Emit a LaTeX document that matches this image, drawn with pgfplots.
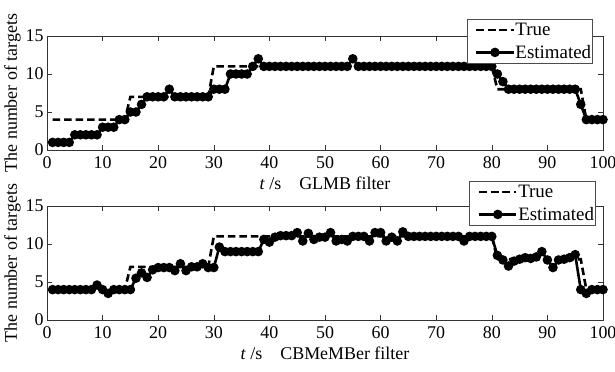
\documentclass[border=0pt]{standalone}
\usepackage{fontspec}
\setmainfont{Liberation Serif}
\usepackage{pgfplots}
\pgfplotsset{compat=1.18}
\pgfplotsset{
  myax/.style={
    width=556bp, height=114bp, scale only axis,
    xmin=0, xmax=100, ymin=0, ymax=15,
    xtick={0,10,...,100}, ytick={0,5,10,15},
    /pgf/number format/assume math mode=true,
    tick label style={font=\fontsize{18}{20}\selectfont},
    label style={font=\fontsize{18}{20}\selectfont},
    major tick length=5bp,
    axis line style={line width=0.6bp, black!80},
    every tick/.style={black!80, line width=0.6bp},
    xticklabel style={yshift=-3bp},
    yticklabel style={xshift=0bp},
    ylabel={The number of targets},
    ylabel style={yshift=-2bp},
    xlabel style={yshift=-1bp},
    legend cell align=left,
    legend style={font=\fontsize{19}{21}\selectfont, draw=black!70, line width=0.6bp,
      fill=white, inner xsep=1bp, inner ysep=2.5bp, row sep=5bp,
      nodes={inner xsep=0.5bp, inner ysep=1.5bp}},
    legend image code/.code={\path (-0.25cm,0cm); \draw[mark repeat=2,mark phase=2,##1] plot coordinates {(0cm,0cm) (0.66cm,0cm) (1.32cm,0cm)};},
  },
  truestyle/.style={black, line width=2.6bp, dash pattern=on 7.5bp off 4bp, no marks},
  eststyle/.style={black, line width=2.6bp, mark=*, mark size=3.4bp, mark options={solid}},
}
\begin{document}
\begin{tikzpicture}
\useasboundingbox (0bp,0bp) rectangle (615bp,-372bp);
% ---------------- top: GLMB
\begin{axis}[myax, at={(47bp,-150bp)}, anchor=south west,
  xlabel={\textit{t} /s\quad GLMB filter},
  legend style={at={(0.982,1.15)}, anchor=north east}]
\addplot[truestyle] coordinates {
(1,4)(2,4)(3,4)(4,4)(5,4)(6,4)(7,4)(8,4)(9,4)(10,4)(11,4)(12,4)(13,4)(14,4)
(15,7)(16,7)(17,7)(18,7)(19,7)(20,7)(21,7)(22,7)(23,7)(24,7)(25,7)(26,7)(27,7)(28,7)(29,7)
(30,11)(40,11)(50,11)(60,11)(70,11)(80,11)
(81,8)(90,8)(96,8)
(97,4)(100,4)};
\addlegendentry{True}
\addplot[eststyle] coordinates {
(1,1)(2,1)(3,1)(4,1)(5,2)(6,2)(7,2)(8,2)(9,2)(10,3)(11,3)(12,3)(13,4)(14,4)
(15,5)(16,5)(17,6)(18,7)(19,7)(20,7)(21,7)(22,8)(23,7)(24,7)(25,7)(26,7)(27,7)(28,7)(29,7)
(30,8)(31,8)(32,8)(33,10)(34,10)(35,10)(36,10)(37,11)(38,12)
(39,11)(40,11)(41,11)(42,11)(43,11)(44,11)(45,11)(46,11)(47,11)(48,11)(49,11)(50,11)
(51,11)(52,11)(53,11)(54,11)(55,12)(56,11)(57,11)(58,11)(59,11)(60,11)
(61,11)(62,11)(63,11)(64,11)(65,11)(66,11)(67,11)(68,11)(69,11)(70,11)
(71,11)(72,11)(73,11)(74,11)(75,11)(76,11)(77,11)(78,11)(79,11)(80,11)
(81,10)(82,9)(83,8)(84,8)(85,8)(86,8)(87,8)(88,8)(89,8)(90,8)
(91,8)(92,8)(93,8)(94,8)(95,8)(96,6)(97,4)(98,4)(99,4)(100,4)};
\addlegendentry{Estimated}
\end{axis}
% ---------------- bottom: CBMeMBer
\begin{axis}[myax, at={(47bp,-320bp)}, anchor=south west,
  xlabel={\textit{t} /s\quad CBMeMBer filter},
  legend style={at={(0.987,1.22)}, anchor=north east}]
\addplot[truestyle] coordinates {
(1,4)(2,4)(3,4)(4,4)(5,4)(6,4)(7,4)(8,4)(9,4)(10,4)(11,4)(12,4)(13,4)(14,4)
(15,7)(16,7)(17,7)(18,7)(19,7)(20,7)(21,7)(22,7)(23,7)(24,7)(25,7)(26,7)(27,7)(28,7)(29,7)
(30,11)(40,11)(50,11)(60,11)(70,11)(80,11)
(81,8)(90,8)(96,8)
(97,4)(100,4)};
\addlegendentry{True}
\addplot[eststyle] coordinates {
(1,4)(2,4)(3,4)(4,4)(5,4)(6,4)(7,4)(8,4)(9,4.6)(10,4.0)
(11,3.5)(12,4)(13,4)(14,4)(15,4)(16,5.5)(17,6.2)(18,5.6)(19,6.6)(20,6.9)
(21,6.9)(22,6.9)(23,6.5)(24,7.4)(25,6.5)(26,7.0)(27,7.0)(28,7.4)(29,6.9)(30,6.9)
(31,9.6)(32,9)(33,9)(34,9)(35,9)(36,9)(37,9)(38,9)(39,10.6)(40,10.25)
(41,10.9)(42,11.1)(43,11.1)(44,11.1)(45,11.5)(46,10.4)(47,11.4)(48,10.6)(49,10.9)(50,10.9)
(51,11.5)(52,10.4)(53,10.6)(54,10.4)(55,11)(56,11)(57,11)(58,10.4)(59,11.5)(60,11.5)
(61,10.4)(62,10.9)(63,10.4)(64,11.6)(65,11)(66,11)(67,11)(68,11)(69,11)(70,11)
(71,11)(72,11)(73,11)(74,11)(75,10.4)(76,11)(77,11)(78,11)(79,11)(80,11)
(81,8.5)(82,7.9)(83,7.1)(84,7.75)(85,8.0)(86,8.2)(87,8.1)(88,8.3)(89,9.0)(90,7.9)
(91,6.9)(92,7.9)(93,8.0)(94,8.2)(95,8.6)(96,4.0)(97,3.5)(98,4)(99,4)(100,4)};
\addlegendentry{Estimated}
\end{axis}
\end{tikzpicture}
\end{document}
